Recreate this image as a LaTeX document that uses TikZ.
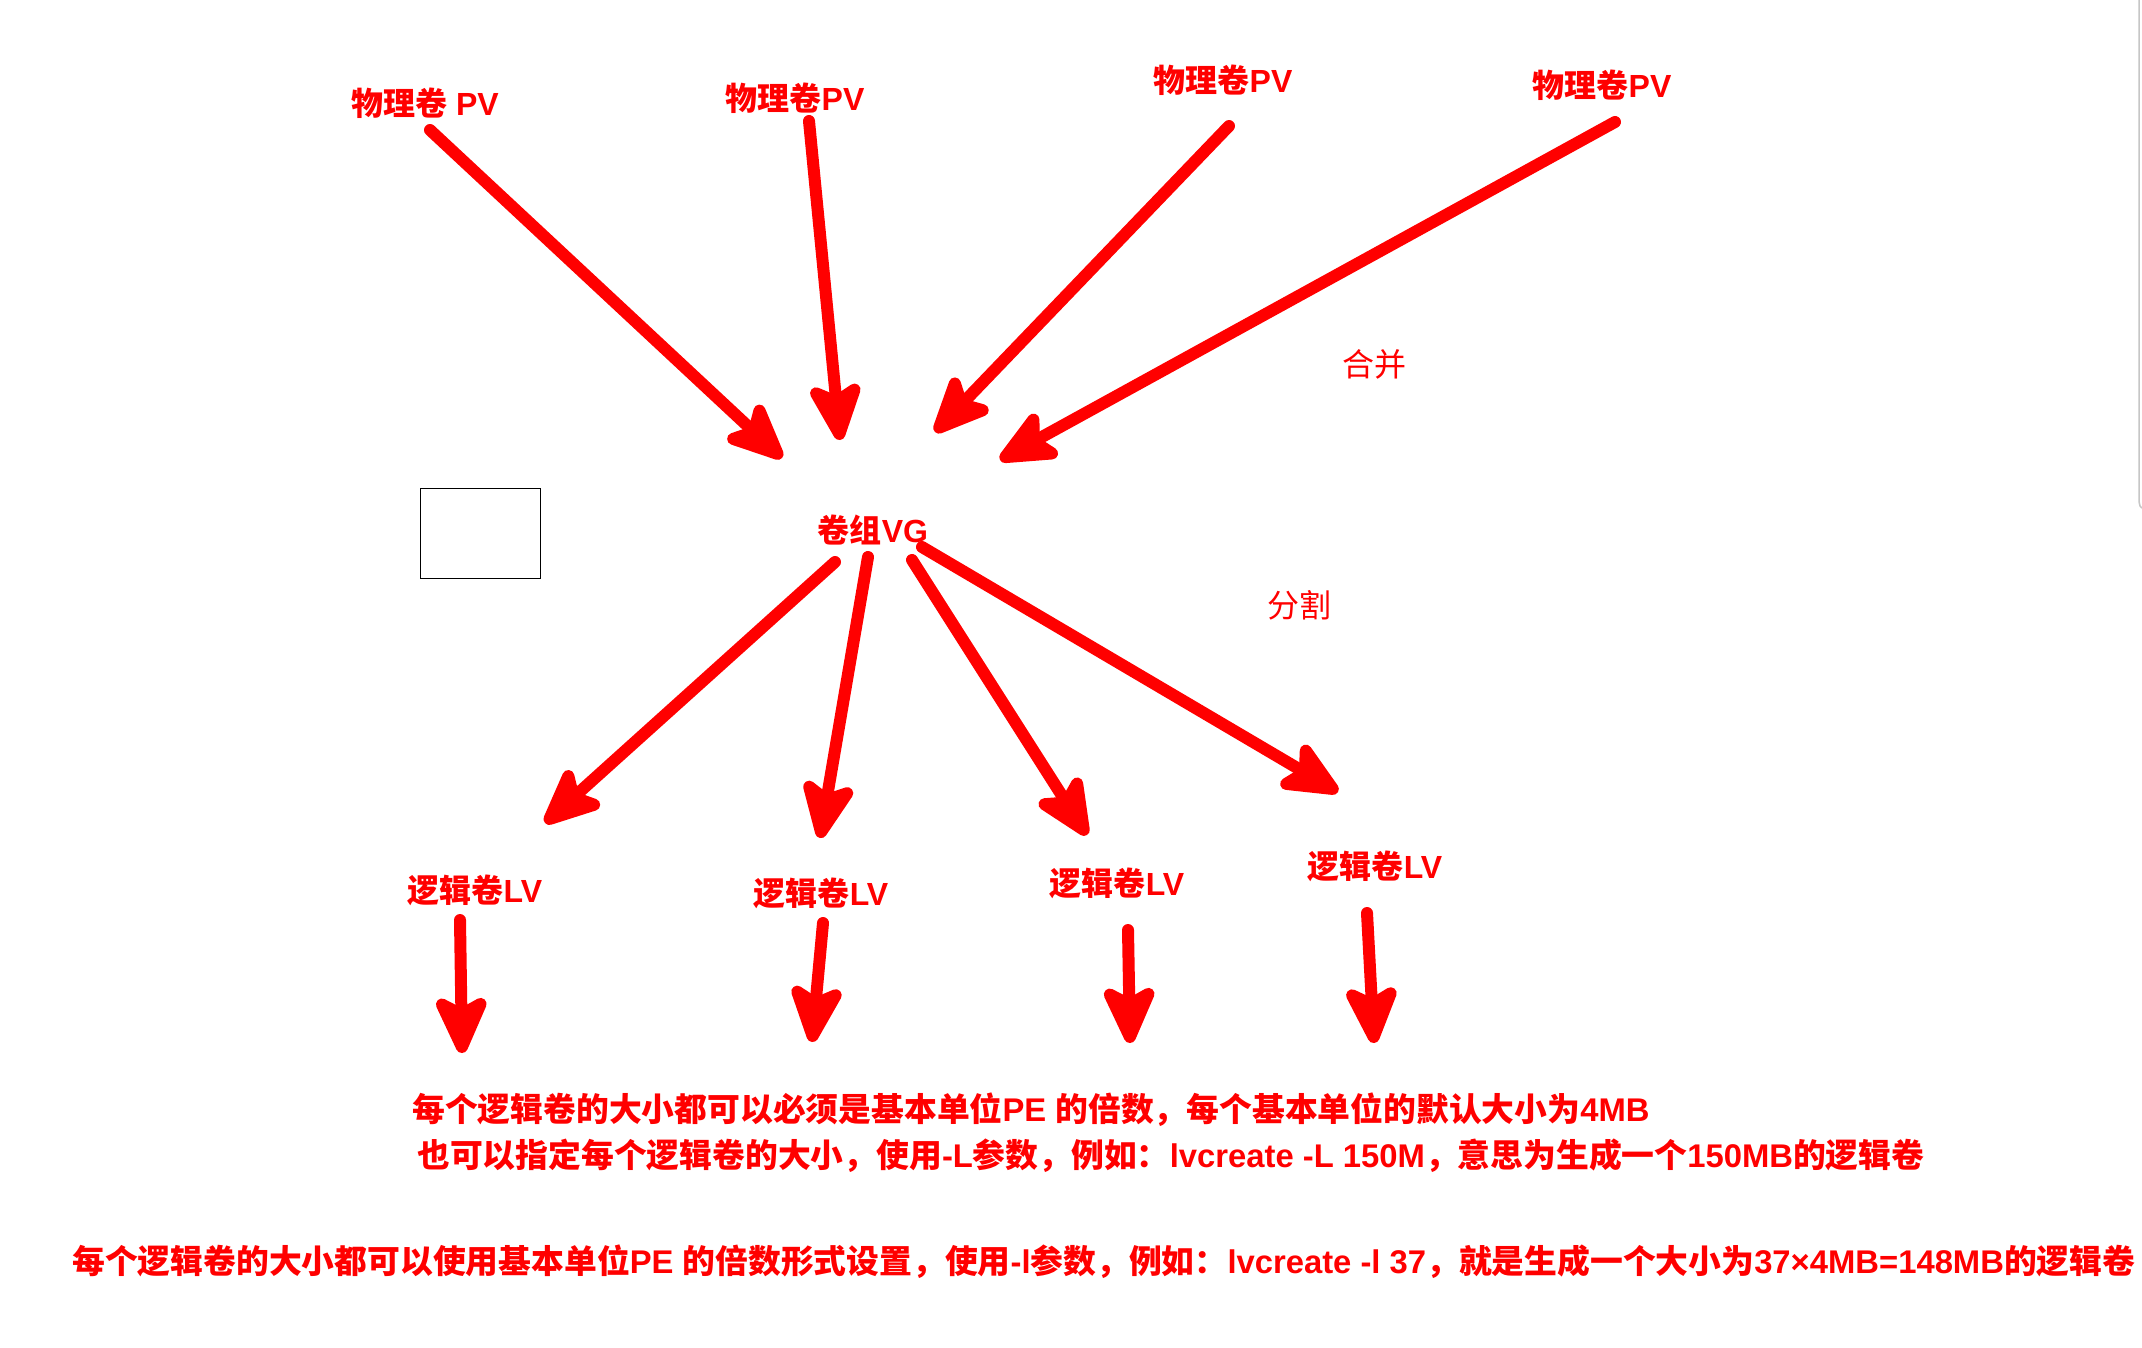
\documentclass[tikz,border=0pt]{standalone}
\usepackage{fontspec}
\setmainfont{Liberation Sans}
\newfontfamily\cjk{Noto Sans CJK SC}
\usetikzlibrary{arrows.meta}
\definecolor{lvmred}{RGB}{255,0,0}
\newcommand\zh[1]{{\cjk #1}}
\begin{document}
\begin{tikzpicture}[x=1pt,y=-1pt,
  lbl/.style={inner sep=0pt, text=lvmred, font=\fontsize{32}{38}\selectfont\bfseries},
  thin lbl/.style={inner sep=0pt, text=lvmred, font=\fontsize{32}{38}\selectfont},
  txtline/.style={inner sep=0pt, anchor=west, text=lvmred, font=\fontsize{32.8}{38}\selectfont\bfseries},
  bigarrow/.style={draw=lvmred, line width=12pt, line cap=round,
    -{Stealth[length=70pt, width=62pt, inset=16pt, round]}}]
\fill[white] (0,0) rectangle (2142,1347);
\useasboundingbox (0,0) rectangle (2142,1347);
% window edge
\draw[gray!45, line width=1.5pt] (2139,0) -- (2139,500) to[out=90,in=180] (2142,508);

% labels
\node[lbl] (pv1) at (425,103) {\zh{物理卷} PV};
\node[lbl] (pv2) at (795,98) {\zh{物理卷}PV};
\node[lbl] (pv3) at (1223,80) {\zh{物理卷}PV};
\node[lbl] (pv4) at (1602,85) {\zh{物理卷}PV};
\node[thin lbl] (merge) at (1374,364) {\zh{合并}};
\node[lbl] (vg) at (873,530) {\zh{卷组}VG};
\node[thin lbl] (split) at (1299,605) {\zh{分割}};
\node[draw=black, line width=1pt, minimum width=120pt, minimum height=90pt, inner sep=0pt] (box) at (480,533) {};
\node[lbl] (lv1) at (475,890) {\zh{逻辑卷}LV};
\node[lbl] (lv2) at (821,893) {\zh{逻辑卷}LV};
\node[lbl] (lv3) at (1117,883) {\zh{逻辑卷}LV};
\node[lbl] (lv4) at (1375,866) {\zh{逻辑卷}LV};

\node[txtline] (t1) at (412,1110) {\zh{每个逻辑卷的大小都可以必须是基本单位}\textbf{PE }\zh{的倍数，每个基本单位的默认大小为}\textbf{4MB}};
\node[txtline] (t2) at (417,1156) {\zh{也可以指定每个逻辑卷的大小，使用}\textbf{-L}\zh{参数，例如：}\textbf{lvcreate -L 150M}\zh{，意思为生成一个}\textbf{150MB}\zh{的逻辑卷}};
\node[txtline] (t3) at (72,1262) {\zh{每个逻辑卷的大小都可以使用基本单位}\textbf{PE }\zh{的倍数形式设置，使用}\textbf{-l}\zh{参数，例如：}\textbf{lvcreate -l 37}\zh{，就是生成一个大小为}\textbf{37×4MB=148MB}\zh{的逻辑卷}};

% arrow end points
\coordinate (a1s) at (430,130);  \coordinate (a1e) at (782,458);
\coordinate (a2s) at (809,121);  \coordinate (a2e) at (840,440);
\coordinate (a3s) at (1229,126); \coordinate (a3e) at (935,432);
\coordinate (a4s) at (1615,122); \coordinate (a4e) at (1000,460);
\coordinate (b1s) at (835,562);  \coordinate (b1e) at (545,823);
\coordinate (b2s) at (868,557);  \coordinate (b2e) at (820,838);
\coordinate (b3s) at (912,560);  \coordinate (b3e) at (1087,835);
\coordinate (b4s) at (922,547);  \coordinate (b4e) at (1338,792);
\coordinate (c1s) at (460,920);  \coordinate (c1e) at (462,1053);
\coordinate (c2s) at (823,923);  \coordinate (c2e) at (812,1042);
\coordinate (c3s) at (1128,930); \coordinate (c3e) at (1130,1043);
\coordinate (c4s) at (1367,913); \coordinate (c4e) at (1374,1043);

\draw[bigarrow] (a1s) -- (a1e);
\draw[bigarrow] (a2s) -- (a2e);
\draw[bigarrow] (a3s) -- (a3e);
\draw[bigarrow] (a4s) -- (a4e);
\draw[bigarrow] (b1s) -- (b1e);
\draw[bigarrow] (b2s) -- (b2e);
\draw[bigarrow] (b3s) -- (b3e);
\draw[bigarrow] (b4s) -- (b4e);
\draw[bigarrow] (c1s) -- (c1e);
\draw[bigarrow] (c2s) -- (c2e);
\draw[bigarrow] (c3s) -- (c3e);
\draw[bigarrow] (c4s) -- (c4e);
\end{tikzpicture}
\end{document}
